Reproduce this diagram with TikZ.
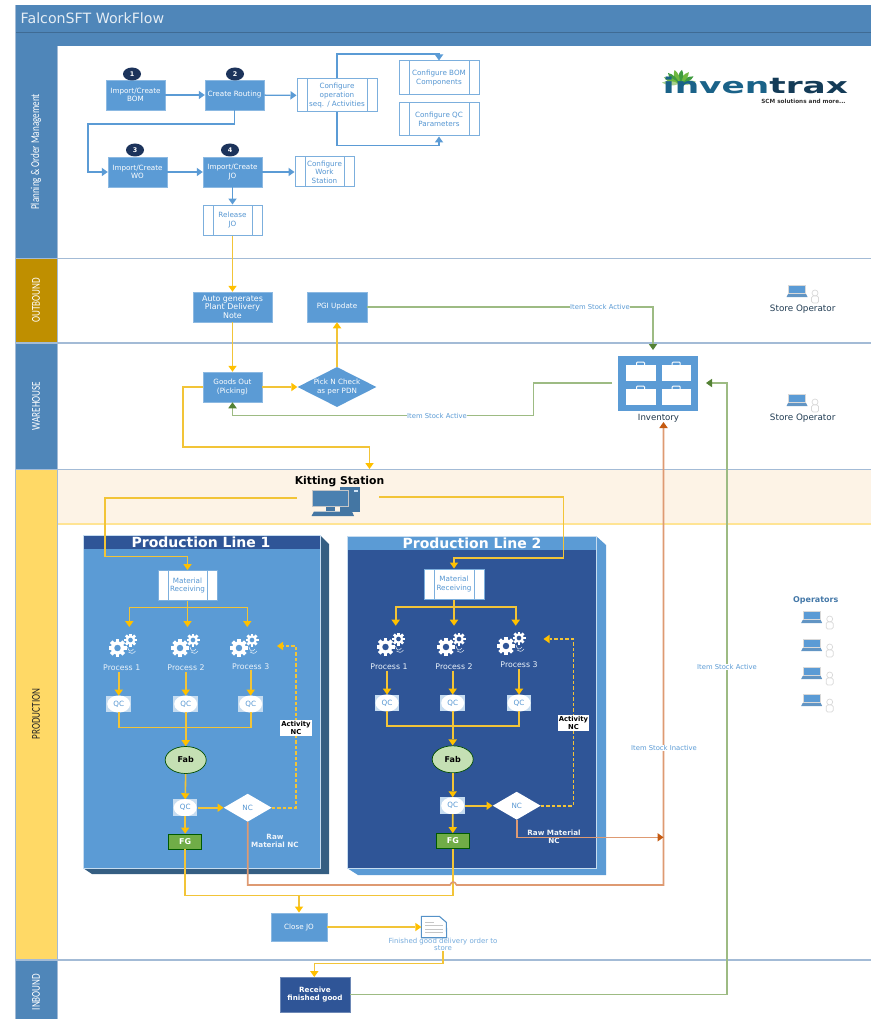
\documentclass[tikz,border=0pt]{standalone}
\usepackage{fontspec}
\setmainfont{DejaVu Sans}
\newfontfamily\lanefont{Carlito}
\usetikzlibrary{positioning, arrows.meta, calc, shapes.geometric}
\definecolor{laneblue}{HTML}{4F86B9}
\definecolor{lanegold}{HTML}{BF8F00}
\definecolor{laneyellow}{HTML}{FFD966}
\definecolor{sepblue}{HTML}{A3BBD6}
\definecolor{boxblue}{HTML}{5B9BD5}
\definecolor{navyblue}{HTML}{2F5597}
\definecolor{darkside}{HTML}{355E82}
\definecolor{flowyellow}{HTML}{F2C438}
\definecolor{tipyellow}{HTML}{FFC000}
\definecolor{stockgreen}{HTML}{9DBB83}
\definecolor{tipgreen}{HTML}{548235}
\definecolor{rawline}{HTML}{DE9A72}
\definecolor{tiporange}{HTML}{C55A11}
\definecolor{subtext}{HTML}{5596D2}
\definecolor{fabgreen}{HTML}{C5E0B4}
\definecolor{fggreen}{HTML}{70AD47}
\definecolor{kitband}{HTML}{FDF3E6}
\definecolor{leafpale}{HTML}{A8D08D}
\definecolor{leafdark}{HTML}{3F9B3F}
\definecolor{leafmid}{HTML}{70B83F}
\newcommand{\onegear}[4]{
	\begin{scope}[shift={(#1,#2)}]
		\foreach \a in {0,45,90,135} \draw[white,line width=#3*0.42pt] (\a:#3) -- (\a+180:#3);
		\fill[white] (0,0) circle (#3*0.74);
		\fill[#4] (0,0) circle (#3*0.36);
	\end{scope}
}
\tikzset{
	pics/gearset/.style={code={
		\onegear{0}{0}{9}{#1}
		\onegear{13}{-8}{6.5}{#1}
		\draw[white!80!#1,line width=.6pt] (10,-1) .. controls (11,4) and (14,4) .. (16,1) (11,4) .. controls (13,6) and (16,6) .. (18,3);
	}},
	pics/laptop/.style={code={
		\fill[gray!30] (-9,-6) rectangle (9,3);
		\fill[boxblue] (-8,-5) rectangle (8,2);
		\fill[boxblue!80!gray] (-9,3) -- (9,3) -- (10.5,6) -- (-10.5,6) -- cycle;
		\draw[gray!30,fill=white,line width=.7pt] (18,2) circle (3);
		\draw[gray!30,fill=white,line width=.7pt,rounded corners=1.5pt] (14.5,5) rectangle (21.5,12);
	}},
	pics/briefcase/.style={code={
		\draw[white,line width=1pt,rounded corners=1pt] (10.5,0) -- (10.5,-3) -- (18.5,-3) -- (18.5,0);
		\fill[white] (0,0) rectangle (29.5,16);
	}}
}
\begin{document}
\begin{tikzpicture}[x=1pt, y=-1pt, node distance=99pt, on grid, font=\fontsize{7.2}{8.6}\selectfont,
	bluebox/.style={rectangle, fill=boxblue, draw=boxblue!70!white, line width=.5pt, text=white, align=center, inner sep=0pt, minimum width=59pt, minimum height=30pt},
	subproc/.style={rectangle, fill=white, draw=boxblue!80!white, line width=1pt, text=subtext, align=center, inner sep=0pt, minimum width=59pt, minimum height=30pt,
		path picture={\draw[boxblue!80!white, line width=1pt] ([xshift=10pt]path picture bounding box.north west) -- ([xshift=10pt]path picture bounding box.south west) ([xshift=-10pt]path picture bounding box.north east) -- ([xshift=-10pt]path picture bounding box.south east);}},
	stepmark/.style={ellipse, fill=navyblue!60!black, text=white, inner sep=0pt, minimum width=18pt, minimum height=13pt, font=\fontsize{6.4}{7}\bfseries\selectfont},
	lanelabel/.style={rotate=90, text=white, inner sep=0pt, font=\lanefont\fontsize{12}{14}\selectfont},
	flow/.style={draw=flowyellow, line width=1.6pt, -{Triangle[length=6pt,width=8.5pt,line width=0pt,fill=tipyellow]}},
	flowplain/.style={draw=flowyellow, line width=1.6pt},
	bluearrow/.style={draw=boxblue, line width=1.3pt, -{Triangle[length=6pt,width=8.5pt,line width=0pt,fill=boxblue]}},
	stock/.style={draw=stockgreen, line width=1.6pt, -{Triangle[length=6pt,width=8.5pt,line width=0pt,fill=tipgreen]}},
	rawnc/.style={draw=rawline, line width=1.6pt, -{Triangle[length=6pt,width=8.5pt,line width=0pt,fill=tiporange]}},
	linklabel/.style={fill=white, text=boxblue, inner sep=.6pt, font=\fontsize{6.8}{8}\selectfont},
	qcbox/.style={rectangle, fill=boxblue!35!white, text=subtext, inner sep=0pt, minimum width=24.5pt, minimum height=16.5pt,
		path picture={\fill[white] (path picture bounding box.center) ellipse (11.5pt and 8.6pt);}},
	fabnode/.style={ellipse, fill=fabgreen, draw=black!70!green, line width=.7pt, inner sep=0pt, minimum width=41pt, minimum height=27pt, font=\fontsize{8}{9}\bfseries\selectfont},
	fgbox/.style={rectangle, fill=fggreen, draw=black!65!green, line width=.8pt, text=white, inner sep=0pt, minimum width=33pt, minimum height=15pt, font=\fontsize{8}{9}\bfseries\selectfont},
	ncnode/.style={diamond, aspect=1.7, fill=white, text=subtext, inner sep=0pt, minimum width=48pt, minimum height=28pt},
	ncbox/.style={rectangle, fill=white, align=center, inner sep=0pt, minimum width=31.5pt, minimum height=16pt, font=\fontsize{6.8}{7.6}\bfseries\selectfont},
	gearlabel/.style={text=white!88!boxblue, inner sep=1pt, font=\fontsize{7.8}{9}\selectfont},
	rawlabel/.style={text=white!90!boxblue, align=center, inner sep=0pt, font=\fontsize{7.2}{8.4}\bfseries\selectfont},
	oplabel/.style={text=black!35!darkside, inner sep=0pt, font=\fontsize{8.8}{10}\selectfont}]
	\useasboundingbox (0,0) rectangle (871,1019);
	\fill[laneblue] (15,5) rectangle (871,46);
	\draw[laneblue!80!black,line width=.8pt] (15,32.3) -- (871,32.3);
	\fill[laneblue] (15,46) rectangle (57,258);
	\fill[lanegold] (15,258) rectangle (57,343);
	\fill[laneblue] (15,343) rectangle (57,469);
	\fill[laneyellow] (15,469) rectangle (57,960);
	\fill[laneblue] (15,960) rectangle (57,1019);
	\fill[kitband] (57,470) rectangle (871,524);
	\draw[laneyellow!70!white,line width=1.2pt] (57,524) -- (871,524);
	\foreach \y in {258.3,342.8,469.4,960} \draw[sepblue,line width=1.6pt] (15,\y) -- (871,\y);
	\draw[sepblue,line width=1pt] (15,5) -- (15,1019) (57,46) -- (57,1019);
	\node[text=white!85!laneblue, anchor=west, inner sep=0pt, font=\fontsize{14.2}{16}\selectfont] (title) at (20.5,18.5) {FalconSFT WorkFlow};
	\node[lanelabel] (laneplan) at (36,152) {\scalebox{.76}[1]{Planning \& Order Management}};
	\node[lanelabel] (laneout) at (36,300) {\scalebox{.76}[1]{OUTBOUND}};
	\node[lanelabel] (laneware) at (36,406) {\scalebox{.76}[1]{WAREHOUSE}};
	\node[lanelabel, text=black!85] (laneprod) at (36,714) {\scalebox{.76}[1]{PRODUCTION}};
	\node[lanelabel] (lanein) at (36,992) {\scalebox{.76}[1]{INBOUND}};
	
	\begin{scope}[shift={(679,84)},xscale=.95,yscale=.8]
		\foreach \a/\c in {-80/leafpale,-58/leafdark,-35/leafmid,-10/leafdark,15/leafmid,40/leafdark,62/leafmid,84/leafpale}
			\fill[\c, rotate=\a] (0,0) .. controls (-4,-6) and (-3,-14) .. (0,-18) .. controls (3,-14) and (4,-6) .. (0,0);
	\end{scope}
	\node[inner sep=0pt] (logo) at (755.5,85.5) {\resizebox{185pt}{16.5pt}{\bfseries\textcolor[HTML]{1A6288}{inven}\textcolor[HTML]{143B57}{trax}}};
	\node[inner sep=0pt, text=black!80, font=\fontsize{5.7}{6}\bfseries\selectfont] (slogan) at (803.5,101.5) {SCM solutions and more...};
	
	\node[bluebox] (bom) at (135.5,95) {Import/Create\\BOM};
	\node[bluebox, right=99pt of bom] (routing) {Create Routing};
	\node[subproc, minimum width=80pt, minimum height=33pt] (confop) at (337,95.5) {Configure\\operation\\seq. / Activities};
	\node[subproc, minimum width=80pt, minimum height=34pt] (confbom) at (439,78) {Configure BOM\\Components};
	\node[subproc, minimum width=80pt, minimum height=33pt] (confqc) at (439,119.5) {Configure QC\\Parameters};
	\node[bluebox] (wo) at (137.5,172) {Import/Create\\WO};
	\node[bluebox, right=95pt of wo] (jo) {Import/Create\\JO};
	\node[subproc, right=92pt of jo] (workst) {Configure\\Work\\Station};
	\node[subproc, below=48pt of jo] (release) {Release\\JO};
	\node[stepmark] (markone) at (132,74) {1};
	\node[stepmark] (marktwo) at (235,74) {2};
	\node[stepmark] (markthree) at (135,150) {3};
	\node[stepmark] (markfour) at (230,150) {4};
	
	\node[bluebox, minimum width=79pt, font=\fontsize{7.9}{8.6}\selectfont] (autopdn) at (232.5,307) {Auto generates\\Plant Delivery\\Note};
	\node[bluebox, minimum width=60pt] (pgi) at (337,307) {PGI Update};
	\node[bluebox] (goods) at (232.5,387) {Goods Out\\(Picking)};
	\node[diamond, aspect=1.95, fill=boxblue, text=white, align=center, inner sep=0pt, minimum width=79pt, minimum height=40pt] (pick) at (337,387) {Pick N Check\\as per PDN};
	
	\node[rectangle, fill=boxblue, inner sep=0pt, minimum width=80pt, minimum height=55pt] (inventory) at (658,383.5) {};
	\pic at (626,365) {briefcase};
	\pic at (661.7,365) {briefcase};
	\pic at (626,389) {briefcase};
	\pic at (661.7,389) {briefcase};
	\node[text=black!45!darkside, inner sep=0pt, font=\fontsize{8.6}{10}\selectfont] (invlabel) at (658.5,418) {Inventory};
	
	\pic at (797,291) {laptop};
	\pic at (797,400) {laptop};
	\node[oplabel] (storeone) at (802.7,309.3) {Store Operator};
	\node[oplabel] (storetwo) at (802.7,418) {Store Operator};
	\node[text=subtext!80!black, inner sep=0pt, font=\fontsize{8}{9}\bfseries\selectfont] (operators) at (815.7,600) {Operators};
	\foreach \y in {617,645,673,700} \pic at (811.7,\y) {laptop};
	
	\node[inner sep=0pt, font=\fontsize{10.8}{12}\bfseries\selectfont] (kitting) at (339.5,481.5) {Kitting Station};
	\fill[darkside!60!boxblue] (340,487) rectangle (359.5,512);
	\fill[white!70!boxblue] (354,490) rectangle (358,492);
	\node[rectangle, fill=darkside!45!boxblue, draw=gray!45, line width=.8pt, inner sep=0pt, minimum width=36pt, minimum height=16pt] (kitscreen) at (330.5,498.5) {};
	\fill[darkside!60!boxblue] (326,507) rectangle (335,511);
	\fill[darkside!60!boxblue] (314,511.5) -- (352,511.5) -- (354,516) -- (311.5,516) -- cycle;
	
	\fill[darkside] (320,535) -- (329,544) -- (329,874) -- (92,874) -- (83,868) -- (320,868) -- cycle;
	\fill[boxblue] (83,535) rectangle (320,868);
	\fill[navyblue] (83,535) rectangle (320,549);
	\draw[white!65!boxblue,line width=.6pt] (83,535) rectangle (320,868);
	\node[text=white, inner sep=0pt, font=\fontsize{14}{15}\bfseries\selectfont] (linetitleone) at (201,542) {Production Line 1};
	
	\fill[boxblue] (596,536) -- (606,545) -- (606,875) -- (358,875) -- (347,868) -- (596,868) -- cycle;
	\fill[navyblue] (347,536) rectangle (596,868);
	\fill[boxblue] (347,536) rectangle (596,550);
	\draw[white!65!boxblue,line width=.6pt] (347,536) rectangle (596,868);
	\node[text=white, inner sep=0pt, font=\fontsize{14}{15}\bfseries\selectfont] (linetitletwo) at (472,543) {Production Line 2};
	
	\coordinate (kitl) at (297,498);
	\coordinate (kitlc) at (105,556.5);
	\coordinate (kitr) at (379,497);
	\coordinate (kitrc) at (563.5,558);
	\coordinate (split1) at (187.5,607.5);
	\coordinate (split2) at (454,606.7);
	\coordinate (gta1) at (129.3,627);
	\coordinate (gtb1) at (187.5,627);
	\coordinate (gtc1) at (247.3,627);
	\coordinate (gta2) at (395.7,625.7);
	\coordinate (gtb2) at (454,625.7);
	\coordinate (gtc2) at (515.7,625.7);
	\coordinate (join1) at (185.7,727.3);
	\coordinate (join2) at (452.7,726);
	\coordinate (corner1) at (296,646);
	\coordinate (back1) at (277,646);
	\coordinate (corner2) at (573.3,639);
	\coordinate (back2) at (543.5,639);
	\coordinate (closejoin) at (299,895.5);
	\coordinate (bridgea) at (450,885);
	\coordinate (bridgeb) at (456.5,885);
	\coordinate (rawcorner) at (663.5,885);
	\coordinate (invtip) at (663.5,422);
	\coordinate (rawtip) at (663.5,837.3);
	
	\node[subproc, minimum width=59pt, minimum height=30pt] (mat1) at (187.5,585.5) {Material\\Receiving};
	\node[subproc, minimum width=60pt, minimum height=30pt] (mat2) at (454,584) {Material\\Receiving};
	\pic at (117.5,648) {gearset=boxblue};
	\pic at (180,648) {gearset=boxblue};
	\pic at (239,648) {gearset=boxblue};
	\pic at (385.5,647) {gearset=navyblue};
	\pic at (446,647) {gearset=navyblue};
	\pic at (506,646) {gearset=navyblue};
	\node[gearlabel] (proc11) at (121.7,667.7) {Process 1};
	\node[gearlabel] (proc12) at (186,667.7) {Process 2};
	\node[gearlabel] (proc13) at (250.7,666.3) {Process 3};
	\node[gearlabel] (proc21) at (389,666.5) {Process 1};
	\node[gearlabel] (proc22) at (454,666.5) {Process 2};
	\node[gearlabel] (proc23) at (519,665) {Process 3};
	\node[qcbox] (qc11) at (118.7,704) {QC};
	\node[qcbox] (qc12) at (185.7,704) {QC};
	\node[qcbox] (qc13) at (250.7,704) {QC};
	\node[qcbox] (qc14) at (185.2,807.7) {QC};
	\node[qcbox] (qc21) at (387,703) {QC};
	\node[qcbox] (qc22) at (452.7,703) {QC};
	\node[qcbox] (qc23) at (519,703) {QC};
	\node[qcbox] (qc24) at (452.7,805.7) {QC};
	\node[fabnode] (fab1) at (185.7,760) {Fab};
	\node[fabnode] (fab2) at (452.7,759.3) {Fab};
	\node[ncnode] (nc1) at (247.7,807.7) {NC};
	\node[ncnode] (nc2) at (516.7,805.7) {NC};
	\node[fgbox] (fg1) at (185.2,841.5) {FG};
	\node[fgbox] (fg2) at (452.8,841) {FG};
	\node[rawlabel] (rawone) at (275,841) {Raw\\Material NC};
	\node[rawlabel] (rawtwo) at (554,837) {Raw Material\\NC};
	
	\node[bluebox, minimum width=56pt, minimum height=28.5pt] (closejo) at (299,927) {Close JO};
	\node[rectangle, fill=navyblue, draw=navyblue!70!white, text=white, align=center, inner sep=0pt, minimum width=69.5pt, minimum height=35pt, font=\fontsize{7.2}{8.8}\bfseries\selectfont] (receive) at (315,994.5) {Receive\\finished good};
	\node[rectangle, inner sep=0pt, minimum width=25pt, minimum height=21pt] (doc) at (434,927) {};
	\draw[boxblue!85!darkside,fill=white,line width=1.1pt] (doc.north west) -- ++(18,0) -- ++(7,6) -- (doc.south east) -- (doc.south west) -- cycle;
	\draw[gray!45,line width=.7pt] (425,922) -- (434,922) (425,925.5) -- (443,925.5) (425,929) -- (443,929) (425,932.5) -- (443,932.5);
	\node[text=boxblue!85!white, align=center, inner sep=0pt, font=\fontsize{7}{7.6}\selectfont] (doclabel) at (443,944.5) {Finished good delivery order to\\store};
	
	\path[bluearrow]
	(bom) edge (routing)
	(routing) edge (confop)
	(wo) edge (jo)
	(jo) edge (workst)
	(jo) edge (release);
	\coordinate (routedown) at (88,124);
	\coordinate (opup) at (337,54);
	\coordinate (opdown) at (337,145.5);
	\draw[bluearrow] (routing.south) |- (routedown) |- (wo.west);
	\draw[bluearrow] (confop.north) |- (opup) -| (confbom.north);
	\draw[bluearrow] (confop.south) |- (opdown) -| (confqc.south);
	
	\path[flow]
	(release) edge (autopdn)
	(autopdn) edge (goods)
	(goods) edge (pick)
	(pick) edge (pgi)
	(closejo) edge (doc);
	\coordinate (goodsleft) at (183,447);
	\coordinate (kittop) at (369.5,469);
	\draw[flow] (goods.west) -| (goodsleft) -| (kittop);
	
	\coordinate (stockmid) at (533.5,415.5);
	\coordinate (invin) at (612,383);
	\coordinate (invtop) at (653,350);
	\coordinate (invright) at (706,383);
	\coordinate (greenturn) at (727,383);
	\draw[stock] (pgi.east) -| (invtop);
	\draw[stock] (invin) -| (stockmid) -| (goods.south);
	\draw[stock] (receive.east) -| (greenturn) -- (invright);
	\node[linklabel] (stockone) at (600,307) {Item Stock Active};
	\node[linklabel] (stocktwo) at (437,415.5) {Item Stock Active};
	\node[linklabel] (stockthree) at (727,667) {Item Stock Active};
	
	\draw[flow] (kitl) -| (kitlc) -| (mat1.north);
	\draw[flow] (kitr) -| (kitrc) -| (mat2.north);
	
	\foreach \n in {1,2} {
		\draw[flowplain] (mat\n.south) -- (split\n);
		\draw[flow] (split\n) -| (gta\n);
		\draw[flow] (split\n) -- (gtb\n);
		\draw[flow] (split\n) -| (gtc\n);
		\draw[flow] (proc\n1.south -| qc\n1.north) -- (qc\n1.north);
		\draw[flow] (proc\n2.south -| qc\n2.north) -- (qc\n2.north);
		\draw[flow] (proc\n3.south -| qc\n3.north) -- (qc\n3.north);
		\draw[flowplain] (qc\n1.south) |- (join\n) -| (qc\n3.south);
		\draw[flow] (qc\n2.south) -- (fab\n.north);
		\draw[flow] (fab\n.south) -- (qc\n4.north);
		\draw[flow] (qc\n4.east) -- (nc\n.west);
		\draw[flow] (qc\n4.south) -- (fg\n.north);
		\draw[flow, dash pattern=on 3.5pt off 2pt] (nc\n.east) -| (corner\n) -- (back\n);
		\draw[flowplain] (fg\n.south) |- (closejoin);
	}
	\draw[flow] (closejoin) -- (closejo.north);
	\coordinate (docdown) at (443,963.3);
	\coordinate (rectop) at (314.3,977);
	\draw[flow] (doclabel.south -| docdown) -- (docdown) -| (rectop);
	
	\draw[rawnc] (nc1.south) |- (bridgea) .. controls (451.5,881) and (455,881) .. (bridgeb) -- (rawcorner) -- (invtip);
	\draw[rawnc] (nc2.south) |- (rawtip);
	\node[linklabel] (stockfour) at (664,748) {Item Stock Inactive};
	
	\node[ncbox] (actone) at (296,728) {Activity\\NC};
	\node[ncbox] (acttwo) at (573.5,723) {Activity\\NC};
\end{tikzpicture}
\end{document}
